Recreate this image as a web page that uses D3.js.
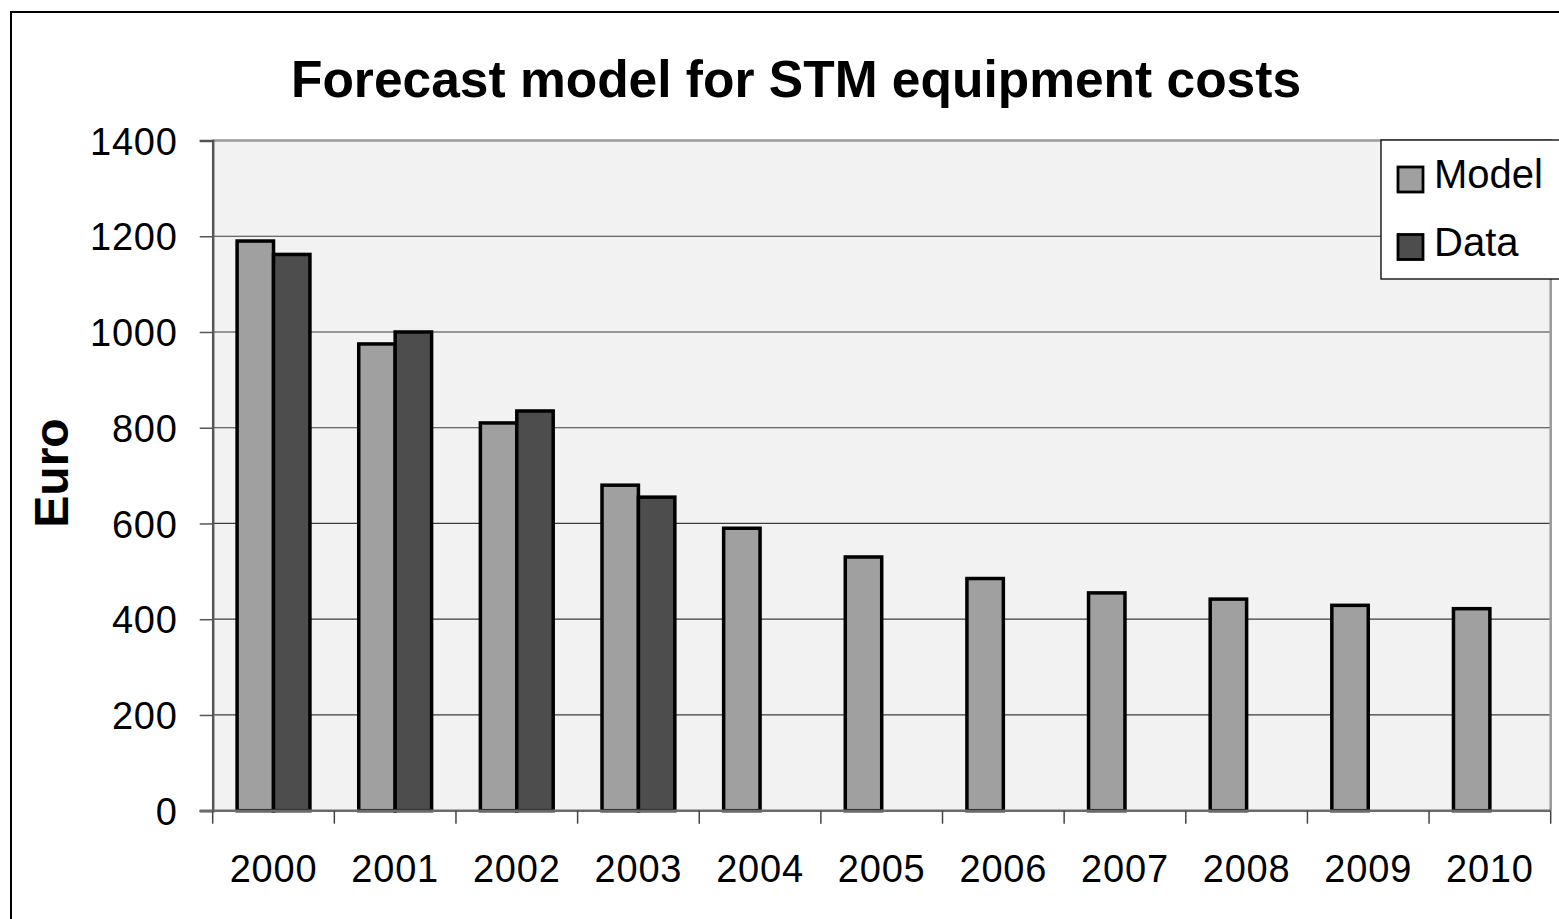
<!DOCTYPE html>
<html>
<head>
<meta charset="utf-8">
<script src="https://cdn.jsdelivr.net/npm/d3@7"></script>
<style>
  html, body { margin: 0; padding: 0; background: #ffffff; }
  svg { display: block; font-family: Arial, "Liberation Sans", Helvetica, sans-serif; }
</style>
</head>
<body>
<svg id="chart" width="1559" height="919"></svg>
<script>
// Chart data
const years = ["2000", "2001", "2002", "2003", "2004", "2005", "2006", "2007", "2008", "2009", "2010"];
const modelValues = [1190, 975, 810, 680, 590, 530, 485, 455, 442, 429, 422];
const dataValues = [1162, 1000, 835, 655, null, null, null, null, null, null, null];
const seriesNames = ["Model", "Data"];
const seriesColors = ["#a0a0a0", "#4d4d4d"];
const yTicks = [0, 200, 400, 600, 800, 1000, 1200, 1400];
const titleText = "Forecast model for STM equipment costs";
const yLabel = "Euro";

const svg = d3.select("#chart");

// Plot area geometry
const plot = { left: 212.7, right: 1550.7, top: 140.5, bottom: 810.7 };

// Outer chart frame
svg.append("rect")
  .attr("x", 11).attr("y", 12)
  .attr("width", 1700).attr("height", 1100)
  .attr("fill", "#ffffff")
  .attr("stroke", "#000000").attr("stroke-width", 2);

const x = d3.scaleBand().domain(years).range([plot.left, plot.right]).padding(0);
const x1 = d3.scaleBand().domain(seriesNames).range([0, x.bandwidth()]).paddingInner(0).paddingOuter(0.67);
const y = d3.scaleLinear().domain([0, 1400]).range([plot.bottom, plot.top]);

// Plot background
svg.append("rect")
  .attr("x", plot.left).attr("y", plot.top)
  .attr("width", plot.right - plot.left).attr("height", plot.bottom - plot.top)
  .attr("fill", "#f2f2f2");

// Horizontal gridlines
svg.append("g")
  .selectAll("line")
  .data(yTicks.filter(d => d > 0 && d < 1400))
  .join("line")
  .attr("x1", plot.left).attr("x2", plot.right)
  .attr("y1", d => y(d)).attr("y2", d => y(d))
  .attr("stroke", "#3c3c3c").attr("stroke-width", 1.2);

// Plot frame: top and right edges
svg.append("path")
  .attr("d", `M${plot.left},${plot.top}H${plot.right}V${plot.bottom}`)
  .attr("fill", "none").attr("stroke", "#9a9a9a").attr("stroke-width", 2.5);

// Bars
const rows = years.map((yr, i) => ({ year: yr, values: [modelValues[i], dataValues[i]] }));
const groups = svg.append("g").selectAll("g")
  .data(rows).join("g")
  .attr("transform", d => `translate(${x(d.year)},0)`);

groups.selectAll("rect")
  .data(d => seriesNames.map((s, k) => ({ series: s, value: d.values[k], color: seriesColors[k] })).filter(v => v.value != null))
  .join("rect")
  .attr("x", d => x1(d.series))
  .attr("width", x1.bandwidth())
  .attr("y", d => y(d.value))
  .attr("height", d => y(0) - y(d.value))
  .attr("fill", d => d.color)
  .attr("stroke", "#000000").attr("stroke-width", 3.5);

// Y axis
const yAxis = svg.append("g")
  .attr("transform", `translate(${plot.left},0)`)
  .call(d3.axisLeft(y).tickValues(yTicks).tickSize(13).tickPadding(22).tickFormat(d3.format("d")));
yAxis.select(".domain").attr("stroke", "#555555").attr("stroke-width", 2.5);
yAxis.selectAll(".tick line").attr("stroke", "#555555").attr("stroke-width", 1.5);
yAxis.selectAll(".tick text")
  .attr("font-size", 38).attr("fill", "#000000")
  .attr("letter-spacing", 0.8)
  .attr("dy", "0.36em");

// X axis with ticks at category boundaries
const xAxisG = svg.append("g");
xAxisG.append("line")
  .attr("x1", plot.left - 13).attr("x2", plot.right)
  .attr("y1", plot.bottom).attr("y2", plot.bottom)
  .attr("stroke", "#6a6a6a").attr("stroke-width", 2.5);
const boundaries = years.map(yr => x(yr)).concat([x(years[years.length - 1]) + x.bandwidth()]);
xAxisG.selectAll("line.tick")
  .data(boundaries)
  .join("line")
  .attr("class", "tick")
  .attr("x1", d => d).attr("x2", d => d)
  .attr("y1", plot.bottom).attr("y2", plot.bottom + 13)
  .attr("stroke", "#444444").attr("stroke-width", 1.5);
xAxisG.selectAll("text")
  .data(years)
  .join("text")
  .attr("x", d => x(d) + x.bandwidth() / 2)
  .attr("y", 882)
  .attr("text-anchor", "middle")
  .attr("font-size", 38)
  .attr("letter-spacing", 0.8)
  .attr("fill", "#000000")
  .text(d => d);

// Title
svg.append("text")
  .attr("x", 796).attr("y", 97)
  .attr("text-anchor", "middle")
  .attr("font-size", 51.5).attr("font-weight", "bold")
  .attr("fill", "#000000")
  .text(titleText);

// Y axis title
svg.append("text")
  .attr("transform", "translate(68,473) rotate(-90)")
  .attr("text-anchor", "middle")
  .attr("font-size", 48).attr("font-weight", "bold")
  .attr("fill", "#000000")
  .text(yLabel);

// Legend
const legend = svg.append("g");
legend.append("rect")
  .attr("x", 1381).attr("y", 140)
  .attr("width", 400).attr("height", 139)
  .attr("fill", "#ffffff").attr("stroke", "#000000").attr("stroke-width", 1.3);
const legendRows = [
  { name: seriesNames[0], color: seriesColors[0], y: 167 },
  { name: seriesNames[1], color: seriesColors[1], y: 234.5 }
];
const li = legend.selectAll("g.item").data(legendRows).join("g").attr("class", "item");
li.append("rect")
  .attr("x", 1398).attr("y", d => d.y)
  .attr("width", 25).attr("height", 25)
  .attr("fill", d => d.color)
  .attr("stroke", "#000000").attr("stroke-width", 2.8);
li.append("text")
  .attr("x", 1434).attr("y", d => d.y + 21)
  .attr("font-size", 40)
  .attr("fill", "#000000")
  .text(d => d.name);
</script>
</body>
</html>
